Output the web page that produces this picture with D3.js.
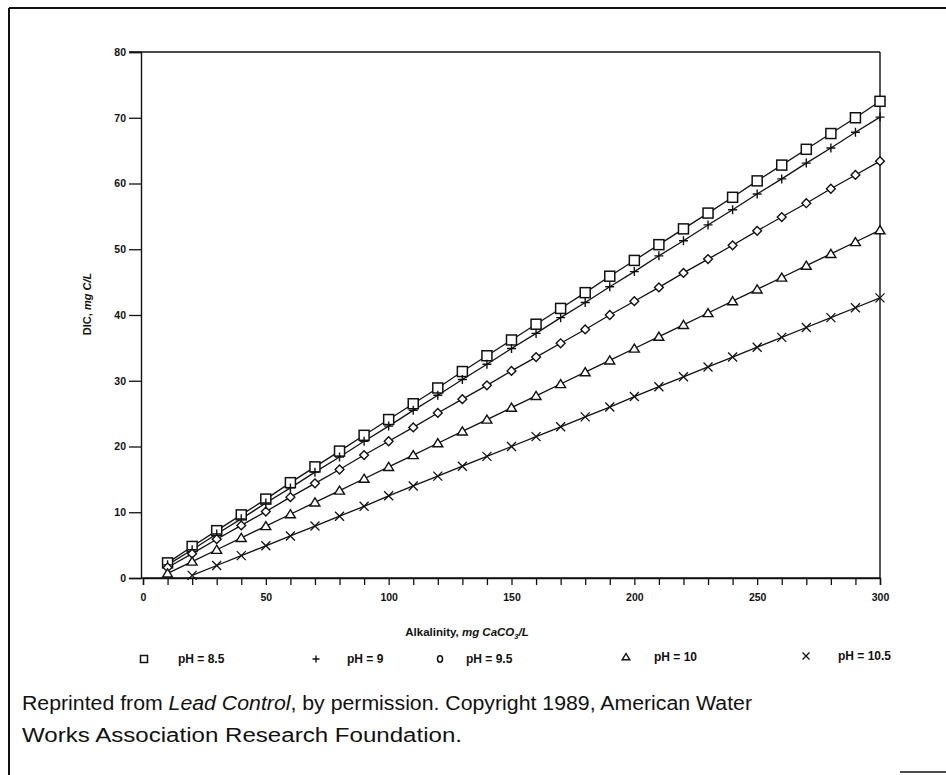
<!DOCTYPE html>
<html>
<head>
<meta charset="utf-8">
<script src="https://cdn.jsdelivr.net/npm/d3@7"></script>
<style>
  html, body { margin: 0; padding: 0; background: #fff; }
  svg { display: block; }
  text { font-family: "Liberation Sans", Arial, sans-serif; fill: #111; }
</style>
</head>
<body>
<svg id="chart" width="946" height="775"></svg>
<script>
// ---- data ----
const alkalinity = [10,20,30,40,50,60,70,80,90,100,110,120,130,140,150,160,170,180,190,200,210,220,230,240,250,260,270,280,290,300];
const dic_pH85 = [2.3,4.8,7.2,9.6,12.0,14.5,16.9,19.3,21.7,24.1,26.5,28.9,31.4,33.8,36.2,38.6,41.0,43.4,45.9,48.3,50.7,53.1,55.5,57.9,60.4,62.8,65.2,67.6,70.0,72.5];
const dic_pH9  = [2.0,4.3,6.7,9.0,11.4,13.7,16.1,18.4,20.8,23.1,25.5,27.8,30.2,32.5,34.9,37.2,39.6,41.9,44.3,46.6,49.0,51.3,53.7,56.0,58.4,60.7,63.1,65.4,67.8,70.1];
const dic_pH95 = [1.6,3.7,5.9,8.0,10.1,12.3,14.4,16.5,18.7,20.8,22.9,25.1,27.2,29.3,31.5,33.6,35.7,37.8,40.0,42.1,44.2,46.4,48.5,50.6,52.8,54.9,57.0,59.2,61.3,63.4];
const dic_pH10 = [0.7,2.5,4.3,6.1,7.9,9.7,11.5,13.3,15.1,16.9,18.7,20.5,22.3,24.1,25.9,27.7,29.5,31.3,33.1,34.9,36.7,38.5,40.3,42.1,43.9,45.7,47.5,49.3,51.1,52.9];
const dic_pH105 = [null,0.4,1.9,3.4,4.9,6.4,7.9,9.4,10.9,12.5,14.0,15.5,17.0,18.5,20.0,21.5,23.0,24.5,26.0,27.6,29.1,30.6,32.1,33.6,35.1,36.6,38.1,39.6,41.1,42.6];
const seriesNames = ["pH = 8.5","pH = 9","pH = 9.5","pH = 10","pH = 10.5"];
const markers = ["square","plus","diamond","triangle","cross"];
const xTicks = [0,10,20,30,40,50,60,70,80,90,100,110,120,130,140,150,160,170,180,190,200,210,220,230,240,250,260,270,280,290,300];
const xTickLabels = [0,50,100,150,200,250,300];
const yTicks = [0,10,20,30,40,50,60,70,80];

const seriesValues = [dic_pH85, dic_pH9, dic_pH95, dic_pH10, dic_pH105];

const svg = d3.select("#chart");
const ink = "#111";

// outer frame
svg.append("line").attr("x1",9).attr("y1",8).attr("x2",946).attr("y2",8).attr("stroke",ink).attr("stroke-width",2);
svg.append("line").attr("x1",9).attr("y1",8).attr("x2",9).attr("y2",775).attr("stroke",ink).attr("stroke-width",2);
svg.append("line").attr("x1",900).attr("y1",772).attr("x2",946).attr("y2",772).attr("stroke",ink).attr("stroke-width",1.5);

const x = d3.scaleLinear().domain([0,300]).range([143,880]);
const y = d3.scaleLinear().domain([0,80]).range([578,52]);

// plot box top and right
svg.append("line").attr("x1",129).attr("y1",y(80)).attr("x2",x(300)).attr("y2",y(80)).attr("stroke",ink).attr("stroke-width",1.4);
svg.append("line").attr("x1",x(300)).attr("y1",y(80)).attr("x2",x(300)).attr("y2",y(0)).attr("stroke",ink).attr("stroke-width",1.4);

// y axis
const yAxis = svg.append("g").attr("transform",`translate(${x(0)-2},0)`)
  .call(d3.axisLeft(y).tickValues(yTicks).tickSize(12).tickPadding(3).tickFormat(d3.format("d")));
// x axis
const xAxis = svg.append("g").attr("transform",`translate(0,${y(0)})`)
  .call(d3.axisBottom(x).tickValues(xTicks).tickSize(7).tickPadding(9)
    .tickFormat(d => xTickLabels.includes(d) ? d : ""));
[yAxis, xAxis].forEach(g => {
  g.select(".domain").attr("stroke",ink).attr("stroke-width",1.4);
  g.selectAll(".tick line").attr("stroke",ink).attr("stroke-width",1.3);
  g.selectAll(".tick text").attr("font-size","10.5px").attr("font-weight","bold").attr("fill",ink)
    .style("font-family","'Liberation Sans', Arial, sans-serif");
});
svg.append("line").attr("x1",x(0)-2).attr("y1",y(0)).attr("x2",x(300)).attr("y2",y(0)).attr("stroke",ink).attr("stroke-width",1.4);

// axis titles
const xt = svg.append("text").attr("x",467).attr("y",636).attr("text-anchor","middle")
  .attr("font-size","11.5px").attr("font-weight","bold");
xt.append("tspan").text("Alkalinity, ");
xt.append("tspan").attr("font-style","italic").text("mg CaCO");
xt.append("tspan").attr("font-style","italic").attr("font-size","7.5px").attr("dy",3).text("3");
xt.append("tspan").attr("font-style","italic").attr("dy",-3).text("/L");

const ytt = svg.append("text").attr("transform","translate(91,304) rotate(-90)").attr("text-anchor","middle")
  .attr("font-size","11px").attr("font-weight","bold");
ytt.append("tspan").text("DIC, ");
ytt.append("tspan").attr("font-style","italic").text("mg C/L");

// marker drawing
function drawMarker(g, type, cx, cy, s) {
  if (type === "square") {
    g.append("rect").attr("x",cx-s/2).attr("y",cy-s/2).attr("width",s).attr("height",s)
      .attr("fill","#fff").attr("stroke",ink).attr("stroke-width",1.5);
  } else if (type === "plus") {
    g.append("path").attr("d",`M${cx-s/2},${cy}H${cx+s/2}M${cx},${cy-s/2}V${cy+s/2}`)
      .attr("stroke",ink).attr("stroke-width",1.4).attr("fill","none");
  } else if (type === "diamond") {
    const h = s*0.55;
    g.append("path").attr("d",`M${cx},${cy-h}L${cx+h},${cy}L${cx},${cy+h}L${cx-h},${cy}Z`)
      .attr("fill","#fff").attr("stroke",ink).attr("stroke-width",1.4);
  } else if (type === "triangle") {
    const h = s*0.5;
    g.append("path").attr("d",`M${cx},${cy-h}L${cx+h*1.1},${cy+h*0.8}L${cx-h*1.1},${cy+h*0.8}Z`)
      .attr("fill","#fff").attr("stroke",ink).attr("stroke-width",1.4);
  } else if (type === "cross") {
    const h = s*0.5;
    g.append("path").attr("d",`M${cx-h},${cy-h}L${cx+h},${cy+h}M${cx-h},${cy+h}L${cx+h},${cy-h}`)
      .attr("stroke",ink).attr("stroke-width",1.3).attr("fill","none");
  }
}
const markerSize = {square:10, plus:9, diamond:8, triangle:9, cross:9};

const line = d3.line().defined(d => d[1] != null).x(d => x(d[0])).y(d => y(d[1]));
seriesValues.forEach((vals, i) => {
  const pts = alkalinity.map((a, j) => [a, vals[j]]);
  svg.append("path").datum(pts).attr("d", line).attr("fill","none").attr("stroke",ink).attr("stroke-width",1.3);
});
seriesValues.forEach((vals, i) => {
  const g = svg.append("g");
  alkalinity.forEach((a, j) => {
    if (vals[j] == null) return;
    drawMarker(g, markers[i], x(a), y(vals[j]), markerSize[markers[i]]);
  });
});

// legend
const legendSymX = [144, 316, 440, 626, 806];
const legendTextX = [178, 347, 466, 654, 838];
const legendY = [659, 659, 659, 657, 656];
seriesNames.forEach((name, i) => {
  const g = svg.append("g");
  const t = markers[i];
  if (t === "diamond") {
    g.append("ellipse").attr("cx",legendSymX[i]).attr("cy",legendY[i]).attr("rx",2.5).attr("ry",3.2)
      .attr("fill","none").attr("stroke",ink).attr("stroke-width",1.5);
  } else {
    drawMarker(g, t, legendSymX[i], legendY[i], 7);
  }
  svg.append("text").attr("x",legendTextX[i]).attr("y",legendY[i]+4)
    .attr("font-size","12px").attr("font-weight","bold").text(name);
});

// caption
const cap = svg.append("text").attr("x",22).attr("y",710).attr("font-size","20px")
  .attr("textLength",730).attr("lengthAdjust","spacingAndGlyphs").style("fill","#111");
cap.append("tspan").text("Reprinted from ");
cap.append("tspan").attr("font-style","italic").text("Lead Control");
cap.append("tspan").text(", by permission. Copyright 1989, American Water");
svg.append("text").attr("x",22).attr("y",742).attr("font-size","20px")
  .attr("textLength",440).attr("lengthAdjust","spacingAndGlyphs").style("fill","#111")
  .text("Works Association Research Foundation.");
</script>
</body>
</html>
